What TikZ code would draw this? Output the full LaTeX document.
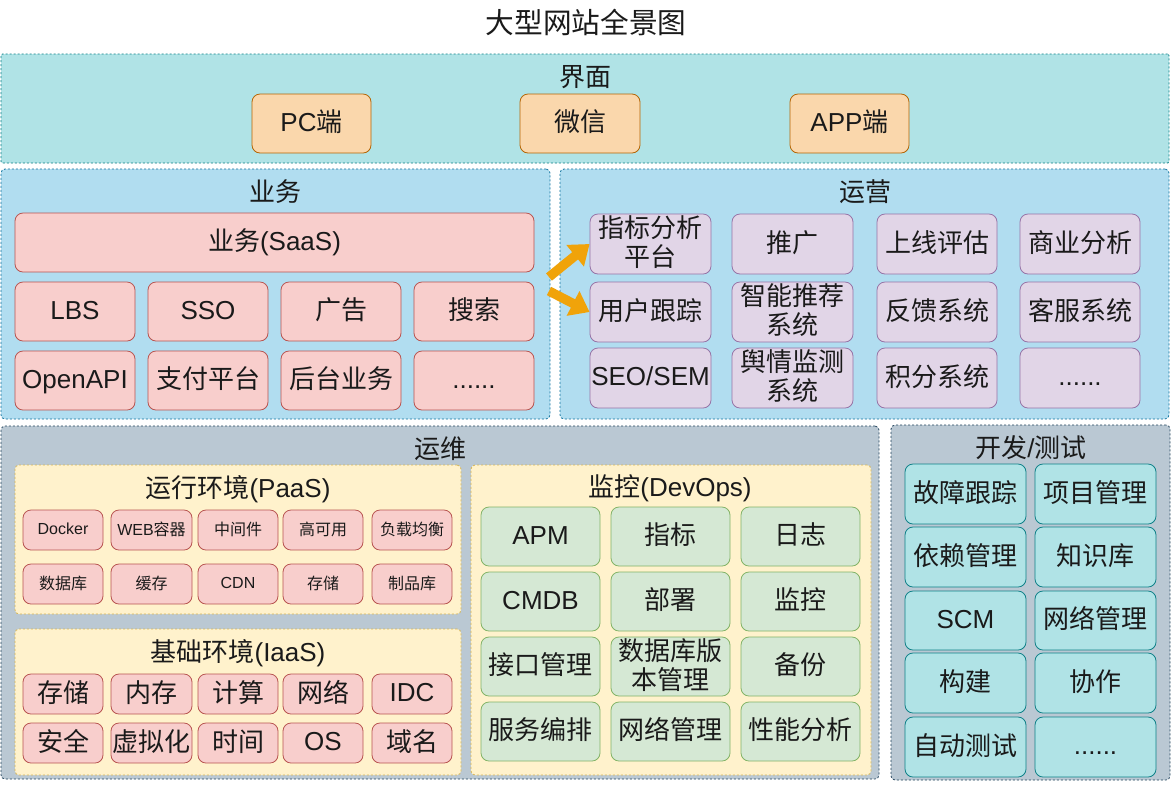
\documentclass[tikz,border=0pt]{standalone}
\usepackage{fontspec}
\setmainfont{Liberation Sans}
\newfontfamily\cjk{Noto Sans CJK SC}
\usetikzlibrary{arrows.meta}
\newcommand\zh[1]{{\cjk #1}}
\newcommand\bigf{\fontsize{19.5pt}{22pt}\selectfont}
\newcommand\smallf{\fontsize{12pt}{14pt}\selectfont}
\newcommand\titlef{\fontsize{21.5pt}{24pt}\selectfont}
\newcommand\evenup{\vphantom{\zh{国}p}}
\definecolor{tealF}{HTML}{B0E3E6}\definecolor{tealS}{HTML}{0E8088}
\definecolor{blueF}{HTML}{B1DDF0}\definecolor{blueS}{HTML}{10739E}
\definecolor{grayF}{HTML}{BAC8D3}\definecolor{grayS}{HTML}{23445D}
\definecolor{oranF}{HTML}{FAD7AC}\definecolor{oranS}{HTML}{B46504}
\definecolor{redF}{HTML}{F8CECC}\definecolor{redS}{HTML}{B85450}
\definecolor{purF}{HTML}{E1D5E7}\definecolor{purS}{HTML}{9673A6}
\definecolor{grnF}{HTML}{D5E8D4}\definecolor{grnS}{HTML}{82B366}
\definecolor{yelF}{HTML}{FFF2CC}\definecolor{yelS}{HTML}{D6B656}
\definecolor{arrF}{HTML}{F0A30A}
\definecolor{txt}{HTML}{1A1A1A}
\newcommand\mkbox[7]{\node[#2, minimum width={(#5-#3)*0.75pt}, minimum height={(#6-#4)*0.75pt}] (#1) at ({(#3+#5)/2},{(#4+#6)/2}) {\evenup#7\evenup};}
\tikzset{
  item/.style={draw, rounded corners=6pt, line width=0.6pt, inner sep=0pt, align=center, font=\bigf, text=txt},
  sitem/.style={item, font=\smallf},
  outer/.style={draw, rounded corners=3pt, line width=0.6pt, dash pattern=on 1.5pt off 1.5pt, inner sep=0pt},
  lbl/.style={inner sep=0pt, font=\bigf, text=txt},
  ti/.style={item, fill=tealF, draw=tealS},
  oi/.style={item, fill=oranF, draw=oranS},
  ri/.style={item, fill=redF, draw=redS},
  rs/.style={sitem, fill=redF, draw=redS},
  pi/.style={item, fill=purF, draw=purS},
  gi/.style={item, fill=grnF, draw=grnS},
  bigarrow/.style={draw=arrF, line width=7pt, -{Triangle[length=14pt,width=20pt]}},
}
\begin{document}
\begin{tikzpicture}[x=0.75pt,y=-0.75pt]
\useasboundingbox (0,0) rectangle (1171,794);
\fill[white] (0,0) rectangle (1171,794);
\node[inner sep=0pt, font=\titlef, text=txt] (title) at (586,22) {\zh{大型网站全景图}};
% 界面
\mkbox{uiO}{outer, fill=tealF, draw=tealS, rounded corners=1pt}{1}{54}{1169}{163}{}
\node[lbl] (uiL) at (585,77) {\zh{界面}};
\mkbox{u1}{oi}{252}{94}{371}{153}{PC\zh{端}}
\mkbox{u2}{oi}{520}{94}{640}{153}{\zh{微信}}
\mkbox{u3}{oi}{790}{94}{909}{153}{APP\zh{端}}
% 业务
\mkbox{bzO}{outer, fill=blueF, draw=blueS}{1}{169}{550}{419}{}
\node[lbl] (bzL) at (275,192) {\zh{业务}};
\mkbox{b0}{ri}{15}{213}{534}{272}{\zh{业务}(SaaS)}
\mkbox{b11}{ri}{15}{282}{135}{341}{LBS}
\mkbox{b12}{ri}{148}{282}{268}{341}{SSO}
\mkbox{b13}{ri}{281}{282}{401}{341}{\zh{广告}}
\mkbox{b14}{ri}{414}{282}{534}{341}{\zh{搜索}}
\mkbox{b21}{ri}{15}{351}{135}{410}{OpenAPI}
\mkbox{b22}{ri}{148}{351}{268}{410}{\zh{支付平台}}
\mkbox{b23}{ri}{281}{351}{401}{410}{\zh{后台业务}}
\mkbox{b24}{ri}{414}{351}{534}{410}{......}
% 运营
\mkbox{opO}{outer, fill=blueF, draw=blueS}{560}{169}{1169}{419}{}
\node[lbl] (opL) at (865,192) {\zh{运营}};
\mkbox{m11}{pi}{590}{214}{711}{274}{\zh{指标分析}\\\zh{平台}}
\mkbox{m12}{pi}{732}{214}{853}{274}{\zh{推广}}
\mkbox{m13}{pi}{877}{214}{997}{274}{\zh{上线评估}}
\mkbox{m14}{pi}{1020}{214}{1140}{274}{\zh{商业分析}}
\mkbox{m21}{pi}{590}{282}{711}{342}{\zh{用户跟踪}}
\mkbox{m22}{pi}{732}{282}{853}{342}{\zh{智能推荐}\\\zh{系统}}
\mkbox{m23}{pi}{877}{282}{997}{342}{\zh{反馈系统}}
\mkbox{m24}{pi}{1020}{282}{1140}{342}{\zh{客服系统}}
\mkbox{m31}{pi}{590}{348}{711}{408}{SEO/SEM}
\mkbox{m32}{pi}{732}{348}{853}{408}{\zh{舆情监测}\\\zh{系统}}
\mkbox{m33}{pi}{877}{348}{997}{408}{\zh{积分系统}}
\mkbox{m34}{pi}{1020}{348}{1140}{408}{......}
\coordinate (a1) at (549,277);
\coordinate (a2) at (549,291);
\draw[bigarrow] (a1) -- (m11.west);
\draw[bigarrow] (a2) -- (m21.west);
% 运维
\mkbox{owO}{outer, fill=grayF, draw=grayS}{1}{426}{879}{779}{}
\node[lbl] (owL) at (440,449) {\zh{运维}};
\mkbox{paO}{outer, fill=yelF, draw=yelS}{15}{465}{461}{614}{}
\node[lbl] (paL) at (238,489) {\zh{运行环境}(PaaS)};
\mkbox{p11}{rs}{23}{510}{103}{550}{Docker}
\mkbox{p12}{rs}{111}{510}{192}{550}{WEB\zh{容器}}
\mkbox{p13}{rs}{198}{510}{278}{550}{\zh{中间件}}
\mkbox{p14}{rs}{283}{510}{363}{550}{\zh{高可用}}
\mkbox{p15}{rs}{372}{510}{452}{550}{\zh{负载均衡}}
\mkbox{p21}{rs}{23}{564}{103}{604}{\zh{数据库}}
\mkbox{p22}{rs}{111}{564}{192}{604}{\zh{缓存}}
\mkbox{p23}{rs}{198}{564}{278}{604}{CDN}
\mkbox{p24}{rs}{283}{564}{363}{604}{\zh{存储}}
\mkbox{p25}{rs}{372}{564}{452}{604}{\zh{制品库}}
\mkbox{iaO}{outer, fill=yelF, draw=yelS}{15}{629}{461}{775}{}
\node[lbl] (iaL) at (238,653) {\zh{基础环境}(IaaS)};
\mkbox{q11}{ri}{23}{674}{103}{714}{\zh{存储}}
\mkbox{q12}{ri}{111}{674}{192}{714}{\zh{内存}}
\mkbox{q13}{ri}{198}{674}{278}{714}{\zh{计算}}
\mkbox{q14}{ri}{283}{674}{363}{714}{\zh{网络}}
\mkbox{q15}{ri}{372}{674}{452}{714}{IDC}
\mkbox{q21}{ri}{23}{723}{103}{763}{\zh{安全}}
\mkbox{q22}{ri}{111}{723}{192}{763}{\zh{虚拟化}}
\mkbox{q23}{ri}{198}{723}{278}{763}{\zh{时间}}
\mkbox{q24}{ri}{283}{723}{363}{763}{OS}
\mkbox{q25}{ri}{372}{723}{452}{763}{\zh{域名}}
\mkbox{dvO}{outer, fill=yelF, draw=yelS}{471}{465}{871}{775}{}
\node[lbl] (dvL) at (670,488) {\zh{监控}(DevOps)};
\mkbox{d11}{gi}{481}{507}{600}{566}{APM}
\mkbox{d12}{gi}{611}{507}{730}{566}{\zh{指标}}
\mkbox{d13}{gi}{741}{507}{860}{566}{\zh{日志}}
\mkbox{d21}{gi}{481}{572}{600}{631}{CMDB}
\mkbox{d22}{gi}{611}{572}{730}{631}{\zh{部署}}
\mkbox{d23}{gi}{741}{572}{860}{631}{\zh{监控}}
\mkbox{d31}{gi}{481}{637}{600}{696}{\zh{接口管理}}
\mkbox{d32}{gi}{611}{637}{730}{696}{\zh{数据库版}\\\zh{本管理}}
\mkbox{d33}{gi}{741}{637}{860}{696}{\zh{备份}}
\mkbox{d41}{gi}{481}{702}{600}{761}{\zh{服务编排}}
\mkbox{d42}{gi}{611}{702}{730}{761}{\zh{网络管理}}
\mkbox{d43}{gi}{741}{702}{860}{761}{\zh{性能分析}}
% 开发/测试
\mkbox{tsO}{outer, fill=grayF, draw=grayS}{891}{425}{1170}{780}{}
\node[lbl] (tsL) at (1031,448) {\zh{开发}/\zh{测试}};
\mkbox{t11}{ti}{905}{464}{1026}{524}{\zh{故障跟踪}}
\mkbox{t12}{ti}{1035}{464}{1156}{524}{\zh{项目管理}}
\mkbox{t21}{ti}{905}{527}{1026}{587}{\zh{依赖管理}}
\mkbox{t22}{ti}{1035}{527}{1156}{587}{\zh{知识库}}
\mkbox{t31}{ti}{905}{591}{1026}{650}{SCM}
\mkbox{t32}{ti}{1035}{591}{1156}{650}{\zh{网络管理}}
\mkbox{t41}{ti}{905}{653}{1026}{713}{\zh{构建}}
\mkbox{t42}{ti}{1035}{653}{1156}{713}{\zh{协作}}
\mkbox{t51}{ti}{905}{717}{1026}{777}{\zh{自动测试}}
\mkbox{t52}{ti}{1035}{717}{1156}{777}{......}
\end{tikzpicture}
\end{document}
